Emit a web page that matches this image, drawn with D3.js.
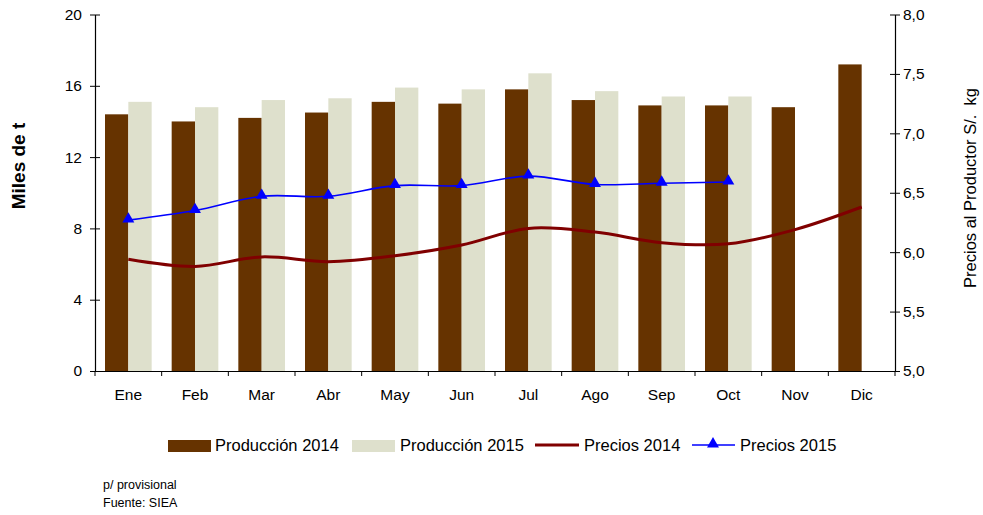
<!DOCTYPE html>
<html>
<head>
<meta charset="utf-8">
<script src="https://cdn.jsdelivr.net/npm/d3@7"></script>
<style>
  body { margin: 0; background: #fff; }
  svg text { font-family: Arial, "Liberation Sans", sans-serif; fill: #000; }
</style>
</head>
<body>
<svg id="chart" width="983" height="515"></svg>
<script>
// data
const months = ["Ene","Feb","Mar","Abr","May","Jun","Jul","Ago","Sep","Oct","Nov","Dic"];
const prod2014 = [14.4,14.0,14.2,14.5,15.1,15.0,15.8,15.2,14.9,14.9,14.8,17.2];
const prod2015 = [15.1,14.8,15.2,15.3,15.9,15.8,16.7,15.7,15.4,15.4];
const precios2014 = [5.94,5.88,5.96,5.92,5.97,6.06,6.20,6.17,6.08,6.07,6.19,6.38];
const precios2015 = [6.27,6.35,6.47,6.47,6.56,6.56,6.64,6.57,6.58,6.59];
const leftTicks = [0,4,8,12,16,20];
const rightTicks = [5.0,5.5,6.0,6.5,7.0,7.5,8.0];

const svg = d3.select("#chart");
const plotLeft = 95, plotRight = 895, plotTop = 14.5, plotBottom = 371;

const x = d3.scaleBand().domain(months).range([plotLeft, plotRight]).padding(0);
const sub = d3.scaleBand().domain(["2014","2015"]).range([0, x.bandwidth()])
    .paddingInner(0).paddingOuter(3/7);
const yL = d3.scaleLinear().domain([0, 20]).range([plotBottom, plotTop]);
const yR = d3.scaleLinear().domain([5, 8]).range([plotBottom, plotTop]);

/* Bars */
const bars = svg.append("g");
bars.selectAll(".b14").data(prod2014).enter().append("rect")
    .attr("x", (d,i) => x(months[i]) + sub("2014"))
    .attr("y", d => yL(d))
    .attr("width", sub.bandwidth())
    .attr("height", d => plotBottom - yL(d))
    .attr("fill", "#663300");
bars.selectAll(".b15").data(prod2015).enter().append("rect")
    .attr("x", (d,i) => x(months[i]) + sub("2015"))
    .attr("y", d => yL(d))
    .attr("width", sub.bandwidth())
    .attr("height", d => plotBottom - yL(d))
    .attr("fill", "#DEE0CC");

/* Axes */
const fmt = d3.format(".1f");
const axL = svg.append("g").attr("transform", `translate(${plotLeft},0)`)
    .call(d3.axisLeft(yL).tickValues(leftTicks).tickSize(0).tickPadding(13));
const axR = svg.append("g").attr("transform", `translate(${plotRight},0)`)
    .call(d3.axisRight(yR).tickValues(rightTicks).tickSize(0).tickPadding(8)
      .tickFormat(d => fmt(d).replace(".", ",")));
const axB = svg.append("g").attr("transform", `translate(0,${plotBottom})`)
    .call(d3.axisBottom(x).tickSize(0).tickPadding(18));
[axL, axR, axB].forEach(a => {
  a.select(".domain").attr("stroke", "#000").attr("stroke-width", 1.2);
  a.selectAll(".tick text").attr("font-size", "15.5px")
      .attr("font-family", "Arial, 'Liberation Sans', sans-serif");
});
// crossing tick marks like the original
axL.selectAll(".tick").append("line").attr("x1", -5).attr("x2", 5).attr("stroke", "#000");
axR.selectAll(".tick").append("line").attr("x1", -5).attr("x2", 5).attr("stroke", "#000");
axB.selectAll(".bt").data(d3.range(months.length + 1)).enter().append("line")
    .attr("x1", i => plotLeft + i * x.step()).attr("x2", i => plotLeft + i * x.step())
    .attr("y1", 0).attr("y2", 5).attr("stroke", "#000");

/* Lines */
const priceLine = d3.line()
    .x((d,i) => x(months[i]) + x.bandwidth() / 2)
    .y(d => yR(d))
    .curve(d3.curveCatmullRom.alpha(0.5));
svg.append("path").datum(precios2014)
    .attr("d", priceLine).attr("fill", "none")
    .attr("stroke", "#800000").attr("stroke-width", 3);
svg.append("path").datum(precios2015)
    .attr("d", priceLine).attr("fill", "none")
    .attr("stroke", "#0000FF").attr("stroke-width", 1.6);
const tri = d3.symbol().type(d3.symbolTriangle).size(62);
svg.selectAll(".mk").data(precios2015).enter().append("path")
    .attr("d", tri)
    .attr("transform", (d,i) => `translate(${x(months[i]) + x.bandwidth()/2},${yR(d) - 1})`)
    .attr("fill", "#0000FF");

/* Axis titles */
svg.append("text")
    .attr("transform", "translate(25,166) rotate(-90)")
    .attr("text-anchor", "middle")
    .attr("font-size", "19px").attr("font-weight", "bold")
    .text("Miles de t");
svg.append("text")
    .attr("transform", "translate(976,188) rotate(-90)")
    .attr("text-anchor", "middle")
    .attr("font-size", "16.5px")
    .attr("xml:space", "preserve")
    .text("Precios al Productor S/.  kg");

/* Legend */
const lg = svg.append("g");
lg.append("rect").attr("x", 168).attr("y", 440).attr("width", 43).attr("height", 12).attr("fill", "#663300");
lg.append("text").attr("x", 215).attr("y", 451).attr("font-size", "16.5px").text("Producción 2014");
lg.append("rect").attr("x", 352).attr("y", 440).attr("width", 43).attr("height", 12).attr("fill", "#DEE0CC");
lg.append("text").attr("x", 400).attr("y", 451).attr("font-size", "16.5px").text("Producción 2015");
lg.append("line").attr("x1", 535).attr("x2", 579).attr("y1", 445).attr("y2", 445)
    .attr("stroke", "#800000").attr("stroke-width", 3);
lg.append("text").attr("x", 584).attr("y", 451).attr("font-size", "16.5px").text("Precios 2014");
lg.append("line").attr("x1", 692).attr("x2", 735).attr("y1", 445).attr("y2", 445)
    .attr("stroke", "#0000FF").attr("stroke-width", 1.6);
lg.append("path").attr("d", tri).attr("transform", "translate(713,444)").attr("fill", "#0000FF");
lg.append("text").attr("x", 740).attr("y", 451).attr("font-size", "16.5px").text("Precios 2015");

/* Notes */
svg.append("text").attr("x", 103).attr("y", 489).attr("font-size", "12.5px").text("p/ provisional");
svg.append("text").attr("x", 103).attr("y", 507).attr("font-size", "12.5px").text("Fuente: SIEA");
</script>
</body>
</html>
